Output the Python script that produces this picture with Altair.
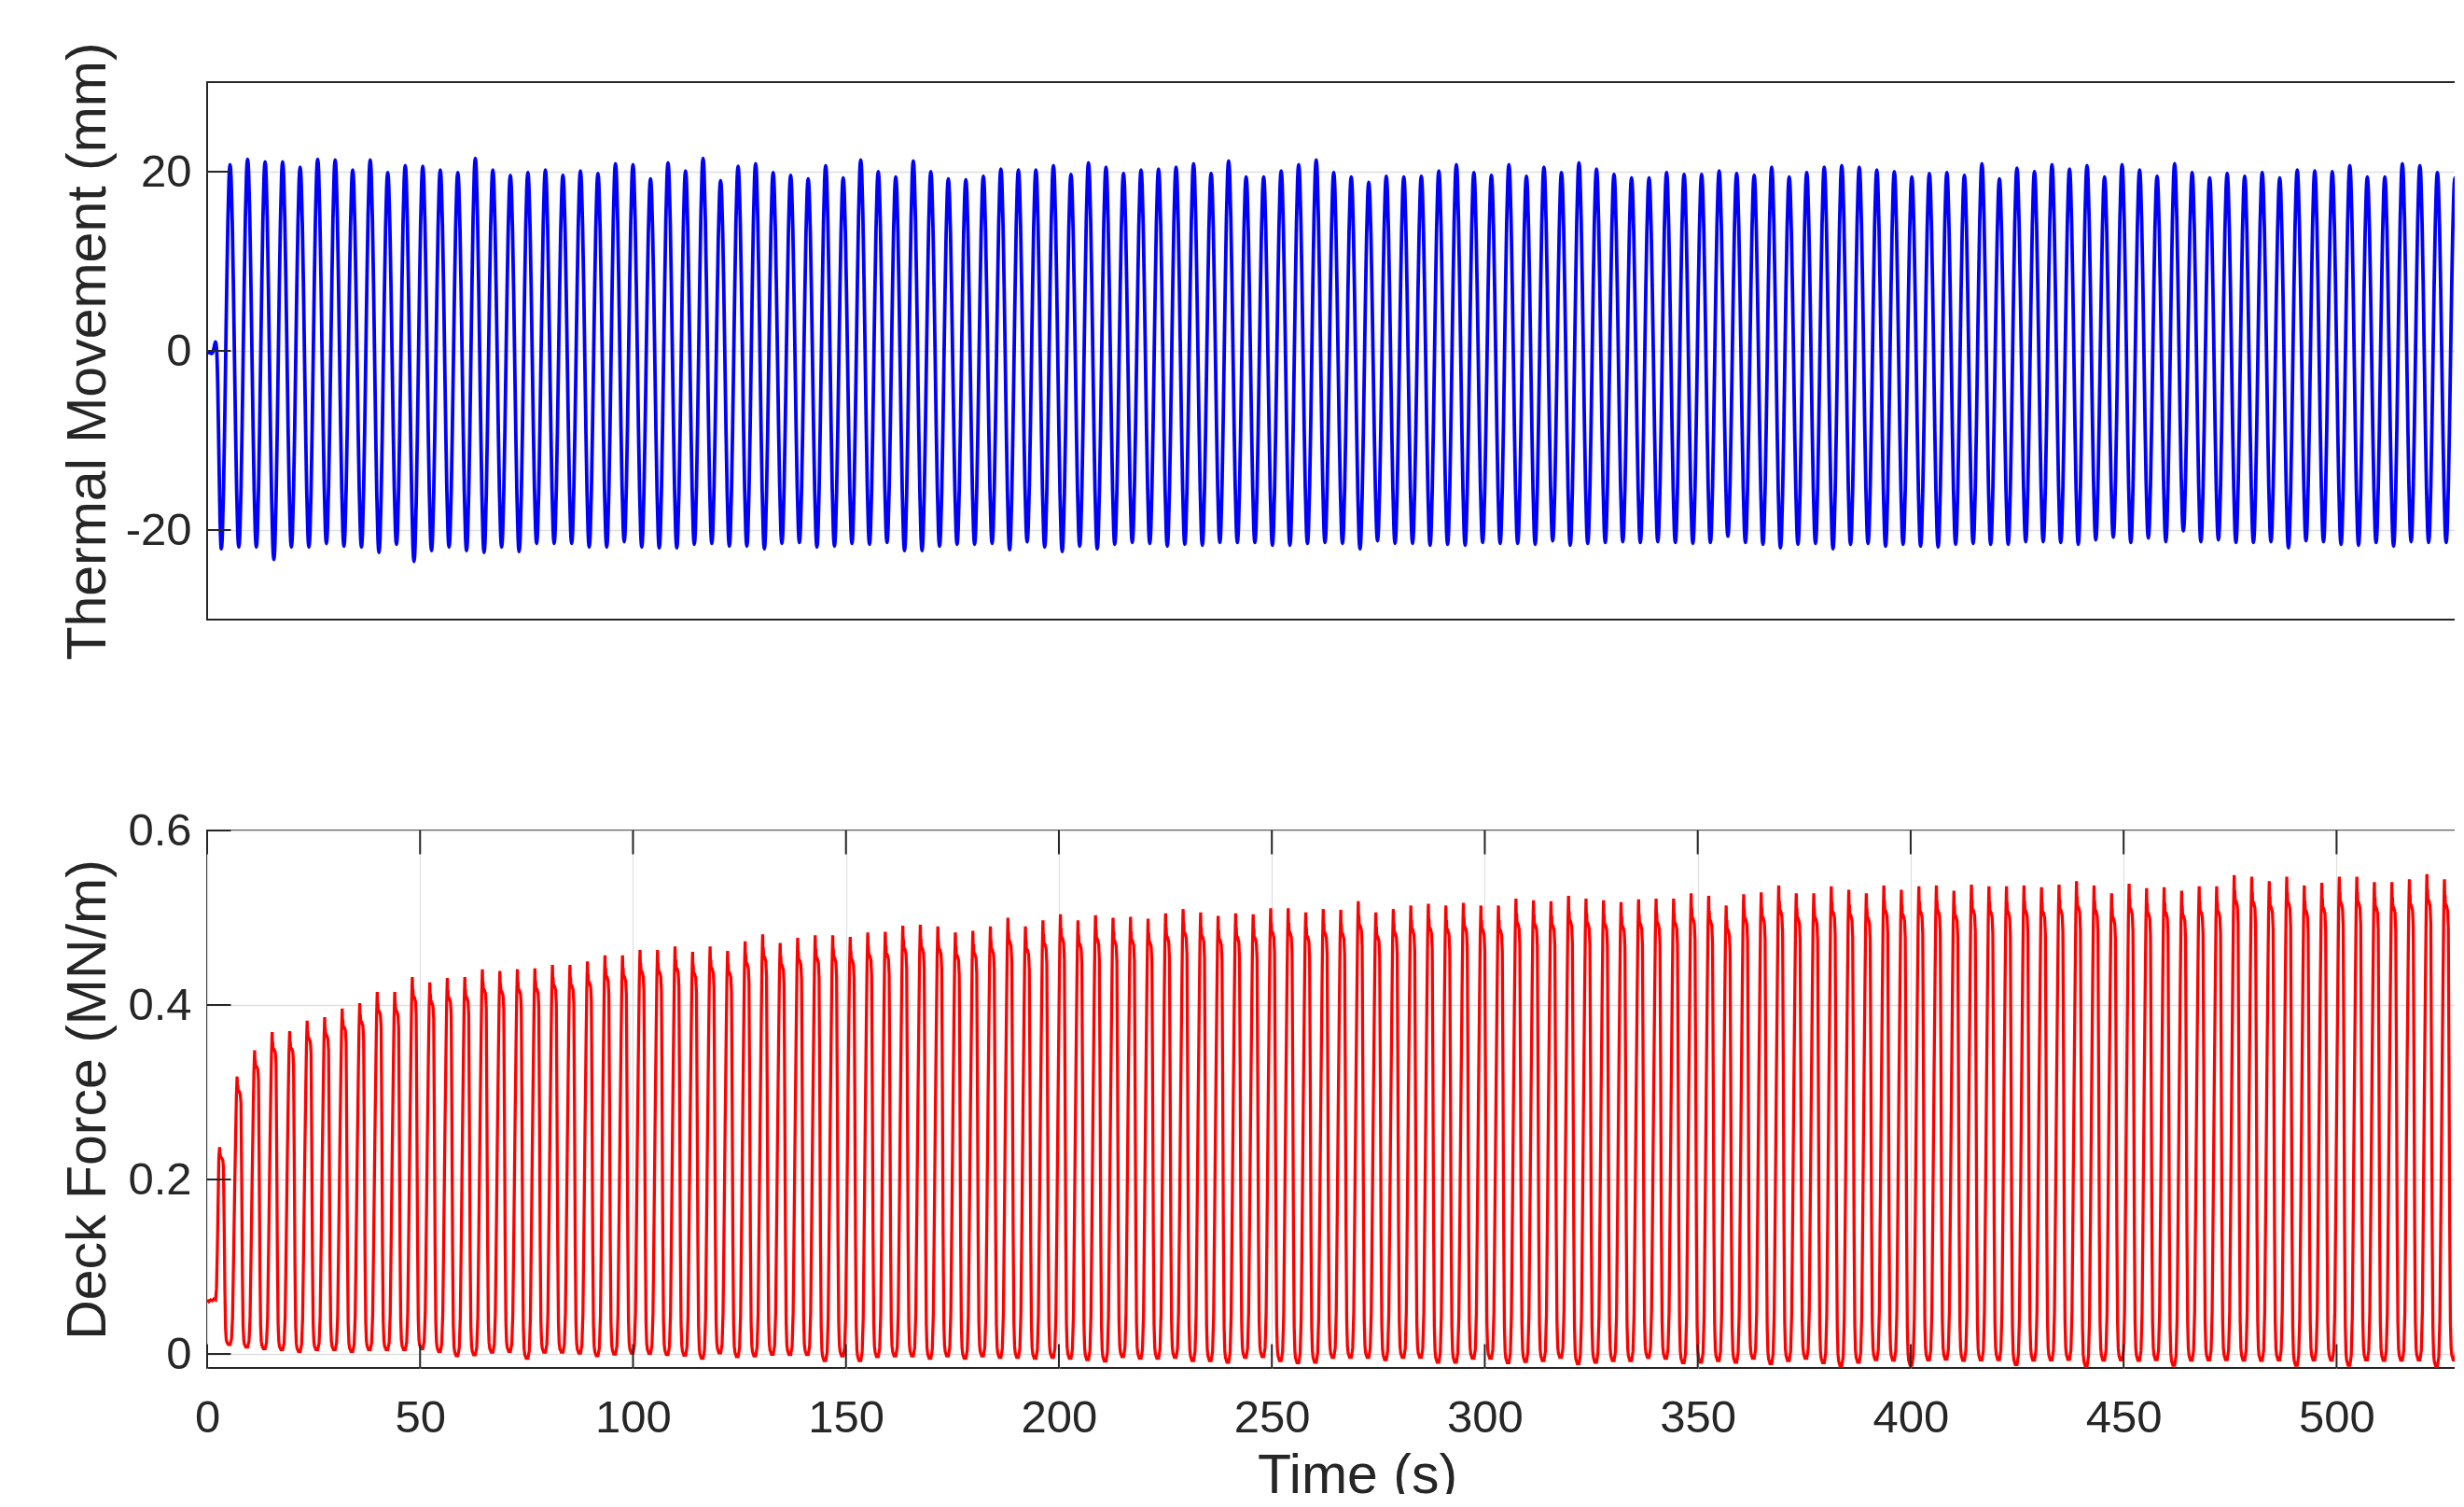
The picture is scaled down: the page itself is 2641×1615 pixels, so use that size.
import altair as alt
import pandas as pd

# ---------------- values ----------------
CYCLE_PERIOD = 4.1134        # s between successive peaks
FIRST_TROUGH_TIME = 3.33     # s, first movement trough
FORCE_LEAD = 0.40            # s, force spike comes just before the movement trough

# thermal movement: record start (before first trough)
move_start_time = [0.0, 0.5, 1.0, 1.25, 1.6, 1.95, 2.25, 2.5, 2.75, 3.0, 3.2]
move_start_value = [-0.2, -0.2, -0.3, -0.2, 0.3, 1.0, 0.0, -4.0, -11.0, -18.0, -21.4]

# thermal movement peaks (mm), one per cycle
move_peaks = [
    20.8, 21.4, 21.1, 21.1, 20.5, 21.4, 21.3, 20.2, 21.3, 19.9, 20.7, 20.6, 20.2, 19.9, 21.5,
    20.2, 19.6, 19.9, 20.2, 19.6, 20.1, 19.8, 20.9, 20.8, 19.2,
    21.0, 20.1, 21.5, 19.0, 20.6, 20.9, 19.9, 19.6, 19.2, 20.7, 19.3, 21.3, 20.0, 19.4, 21.2,
    20.0, 19.2, 19.1, 19.5, 20.3, 20.2, 20.2, 20.7, 19.7,
    21.0, 20.5, 19.8, 20.2, 20.3, 20.5, 20.9, 19.8, 21.2, 19.4, 19.4, 20.1, 20.8, 21.3, 19.9,
    19.4, 18.8, 19.5, 19.4, 19.5, 20.1, 20.8, 19.9, 19.6, 20.8,
    19.5, 20.5, 19.9, 21.0, 20.3, 19.7, 19.3, 19.3, 19.9, 19.7, 19.7, 20.1, 19.8, 19.6, 20.5,
    19.4, 19.9, 20.5, 20.7, 20.5, 20.2, 20.0, 19.4, 19.8, 19.9,
    19.6, 20.9, 19.2, 20.4, 20.0, 20.8, 20.3, 20.7, 19.4, 20.8, 20.2, 19.5, 20.9, 19.9, 19.3,
    19.8, 19.5, 19.9, 19.3, 20.2, 20.1, 20.0, 20.7, 19.4, 19.4, 20.9, 20.7, 19.9, 19.3,
]

# thermal movement troughs (mm), one per cycle (each just before the peak of same index)
move_troughs = [
    -22.1, -21.9, -21.9, -23.3, -21.9, -21.9, -21.5, -21.8, -21.9, -22.5, -21.6, -23.5, -22.3,
    -21.9, -22.3, -22.5, -21.9, -22.4, -21.5, -21.5, -21.5, -21.9, -21.9, -21.3, -21.9,
    -22.0, -22.0, -21.6, -21.5, -21.8, -21.8, -22.1, -21.5, -21.4, -21.9, -21.8, -21.5, -21.6,
    -21.4, -22.3, -22.3, -21.8, -21.6, -21.6, -21.5, -22.2, -21.3, -21.9, -22.4, -21.8,
    -22.1, -21.6, -21.4, -21.5, -21.8, -21.6, -21.7, -21.4, -21.4, -21.4, -21.7, -21.7, -21.5,
    -21.4, -21.5, -22.1, -21.2, -21.5, -21.5, -21.7, -21.6, -21.7, -21.4, -21.5, -21.5,
    -21.6, -21.2, -21.7, -21.5, -21.4, -21.3, -21.4, -21.3, -21.4, -21.5, -21.4, -20.7, -21.4,
    -21.6, -22.0, -21.6, -21.5, -22.1, -21.6, -21.5, -21.8, -21.6, -21.8, -21.9, -21.6,
    -21.5, -21.6, -21.6, -21.3, -21.3, -21.4, -21.6, -21.1, -20.8, -21.4, -20.9, -21.3, -20.1,
    -21.3, -21.1, -21.4, -21.4, -21.3, -22.0, -21.2, -21.3, -21.6, -21.7, -21.4, -21.8, -21.3,
    -21.4, -21.4, -21.4,
]

# shape of one half cycle of the movement (0 = trough, 1 = peak)
move_half_shape = [0.0, 0.04, 0.15, 0.31, 0.5, 0.69, 0.85, 0.96, 1.0]

# deck force: record start (before first spike)
force_start_time = [0.0, 0.4, 0.8, 1.2, 1.6, 2.0, 2.2, 2.4, 2.6, 2.75]
force_start_value = [0.062, 0.060, 0.062, 0.061, 0.063, 0.062, 0.075, 0.12, 0.18, 0.225]

# deck force spike per cycle (MN/m)
force_peaks = [
    0.237, 0.318, 0.348, 0.369, 0.370, 0.382, 0.386, 0.396, 0.402, 0.415, 0.415, 0.432, 0.426,
    0.431, 0.432, 0.441, 0.439, 0.441, 0.442, 0.446, 0.446, 0.450, 0.457, 0.457, 0.463,
    0.463, 0.467, 0.461, 0.467, 0.462, 0.473, 0.481, 0.471, 0.477, 0.480, 0.480, 0.478, 0.483,
    0.484, 0.491, 0.492, 0.490, 0.483, 0.485, 0.490, 0.500, 0.490, 0.497,
    0.504, 0.497, 0.503, 0.500, 0.501, 0.499, 0.505, 0.510, 0.506, 0.502, 0.505, 0.504, 0.511,
    0.511, 0.506, 0.510, 0.509, 0.519, 0.506, 0.510, 0.514, 0.516, 0.514,
    0.517, 0.514, 0.514, 0.522, 0.520, 0.519, 0.525, 0.522, 0.520, 0.518, 0.521, 0.522, 0.522,
    0.528, 0.525, 0.514, 0.527, 0.529, 0.537, 0.528, 0.528, 0.536, 0.532,
    0.528, 0.537, 0.532, 0.536, 0.537, 0.531, 0.538, 0.536, 0.536, 0.537, 0.535, 0.538, 0.542,
    0.537, 0.528, 0.539, 0.534, 0.535, 0.531, 0.536, 0.536, 0.549, 0.547, 0.542, 0.547, 0.537,
    0.540, 0.547, 0.547, 0.541, 0.541, 0.544, 0.550, 0.544, 0.545,
]

# deck force low level after each spike (MN/m)
force_troughs = [
    0.011, 0.008, 0.006, 0.005, 0.003, 0.005, 0.005, 0.003, 0.005, 0.005, 0.005, 0.006, 0.003,
    -0.002, -0.001, 0.002, 0.003, -0.005, 0.002, 0.002, 0.001, -0.002, 0.0, 0.001,
    0.0007, -0.0007, -0.0014, -0.005, 0.0014, -0.0029, -0.0021, -0.0004, -0.0007, -0.0007,
    -0.0075, -0.0021, -0.0075, -0.0029, -0.0021, -0.0021, -0.005, -0.0021, -0.005, -0.0021,
    -0.0039, -0.0039, -0.005, -0.0039, -0.005, -0.0064, -0.0082, -0.0029, -0.005, -0.005,
    -0.0039, -0.0075, -0.0075, -0.0093, -0.0039, -0.0029, -0.0075, -0.01, -0.0093, -0.0039,
    -0.0039, -0.0039, -0.0064, -0.0039, -0.0039, -0.0093, -0.0093, -0.005, -0.005, -0.01,
    -0.0086, -0.0075, -0.0039, -0.011, -0.0093, -0.0075, -0.0075, -0.0039, -0.005, -0.01,
    -0.0093, -0.0075, -0.0093, -0.005, -0.011, -0.0075, -0.005, -0.01, -0.0136, -0.0093,
    -0.0065, -0.007, -0.013, -0.0068, -0.006, -0.0072, -0.0068, -0.0065, -0.012, -0.007,
    -0.0068, -0.0062, -0.014, -0.007, -0.0068, -0.0072, -0.0065, -0.013, -0.007, -0.0068,
    -0.0065, -0.007, -0.0072, -0.0068, -0.013, -0.0068, -0.007, -0.013, -0.0068, -0.0072,
    -0.007, -0.0068, -0.014, -0.0068, -0.007,
]

# shape of one force cycle: phase (fraction of a period after the spike)
# and level (0 = low level, 1 = spike)
force_fall_phase = [0.02, 0.035, 0.05, 0.12, 0.18, 0.22, 0.26, 0.30, 0.34, 0.38, 0.42, 0.50, 0.60]
force_fall_level = [0.955, 0.968, 0.95, 0.945, 0.935, 0.90, 0.62, 0.28, 0.08, 0.025, 0.01, 0.0, 0.0]
force_rise_phase = [0.68, 0.74, 0.80, 0.86, 0.92, 0.96, 0.99]
force_rise_level = [0.02, 0.10, 0.33, 0.58, 0.80, 0.93, 0.985]

move_ticks = [-20, 0, 20]
force_ticks = [0, 0.2, 0.4, 0.6]
time_ticks = [0, 50, 100, 150, 200, 250, 300, 350, 400, 450, 500]

# ---------------- tables for the library ----------------
half = CYCLE_PERIOD / 2
n = len(move_half_shape)
move_rows = list(zip(move_start_time, move_start_value))
for j, lo in enumerate(move_troughs):
    t0 = FIRST_TROUGH_TIME + j * CYCLE_PERIOD
    move_rows.append((t0, lo))
    if j < len(move_peaks):
        hi = move_peaks[j]
        for i in range(1, n):
            move_rows.append((t0 + half * i / (n - 1), lo + move_half_shape[i] * (hi - lo)))
        if j + 1 < len(move_troughs):
            lo2 = move_troughs[j + 1]
            for i in range(1, n - 1):
                move_rows.append((t0 + half + half * i / (n - 1),
                                  hi - move_half_shape[i] * (hi - lo2)))
move_df = pd.DataFrame(move_rows, columns=["t", "v"])

force_rows = list(zip(force_start_time, force_start_value))
for k, hi in enumerate(force_peaks):
    tp = FIRST_TROUGH_TIME - FORCE_LEAD + k * CYCLE_PERIOD
    lo = force_troughs[k]
    force_rows.append((tp, hi))
    for ph, lv in zip(force_fall_phase, force_fall_level):
        force_rows.append((tp + ph * CYCLE_PERIOD, lo + lv * (hi - lo)))
    if k + 1 < len(force_peaks):
        hi2 = force_peaks[k + 1]
        for ph, lv in zip(force_rise_phase, force_rise_level):
            force_rows.append((tp + ph * CYCLE_PERIOD, lo + lv * (hi2 - lo)))
force_df = pd.DataFrame(force_rows, columns=["t", "v"])
force_df = force_df[force_df["t"] <= 531.5]

# ---------------- styling ----------------
FONT = "Liberation Sans"
INK = "#262626"
GRID = "#e0e0e0"
W = 2465
H = 576
TICK_LEN = 25.5

xscale = alt.Scale(domain=[0, 540], nice=False, zero=False)


def y_axis(vals, title):
    return alt.Axis(
        values=vals, title=title, grid=True, gridColor=GRID, gridWidth=1.3,
        ticks=False, tickSize=0, domain=False, labelFlush=False,
        labelFont=FONT, labelFontSize=49, labelColor=INK, labelPadding=17,
        labelExpr="'' + datum.value",
        titleFont=FONT, titleFontSize=59, titleFontWeight="normal", titleColor=INK,
        titleAngle=270, titleAlign="center", titleBaseline="alphabetic",
        titleX=-110, titleY=H / 2,
    )


x_axis = alt.Axis(
    values=time_ticks, title="Time (s)", grid=True, gridColor=GRID, gridWidth=1.3,
    ticks=False, tickSize=0, domain=False, labelFlush=False,
    labelFont=FONT, labelFontSize=49, labelColor=INK, labelPadding=68,
    labelBaseline="alphabetic", labelExpr="'' + datum.value",
    titleFont=FONT, titleFontSize=59, titleFontWeight="normal", titleColor=INK,
    titleAlign="center", titleBaseline="alphabetic", titleX=W / 2, titleY=133,
)

# ---- top panel: thermal movement ----
top_y = alt.Y("v:Q", scale=alt.Scale(domain=[-30, 30], nice=False, zero=False),
              axis=y_axis(move_ticks, "Thermal Movement (mm)"))
top_line = alt.Chart(move_df).mark_line(
    color="#0000ff", strokeWidth=3.8, interpolate="monotone"
).encode(x=alt.X("t:Q", scale=xscale, axis=None), y=top_y)
top_ticks = alt.Chart(pd.DataFrame({"v": move_ticks})).mark_rule(
    color=INK, strokeWidth=2
).encode(y=top_y, x=alt.value(0), x2=alt.value(TICK_LEN))
top = alt.layer(top_line, top_ticks).properties(width=W, height=H)

# ---- bottom panel: deck force ----
bot_y = alt.Y("v:Q", scale=alt.Scale(domain=[-0.016, 0.6], nice=False, zero=False),
              axis=y_axis(force_ticks, "Deck Force (MN/m)"))
bot_x = alt.X("t:Q", scale=xscale, axis=x_axis)
bot_line = alt.Chart(force_df).mark_line(color="#ff0000", strokeWidth=3.3).encode(x=bot_x, y=bot_y)
bot_yt = alt.Chart(pd.DataFrame({"v": force_ticks})).mark_rule(
    color=INK, strokeWidth=2
).encode(y=bot_y, x=alt.value(0), x2=alt.value(TICK_LEN))
xt_df = pd.DataFrame({"t": time_ticks})
bot_xt_top = alt.Chart(xt_df).mark_rule(color=INK, strokeWidth=2).encode(
    x=bot_x, y=alt.value(0), y2=alt.value(TICK_LEN))
bot_xt_bottom = alt.Chart(xt_df).mark_rule(color=INK, strokeWidth=2).encode(
    x=bot_x, y=alt.value(H), y2=alt.value(H - TICK_LEN))
bottom = alt.layer(bot_line, bot_yt, bot_xt_top, bot_xt_bottom).properties(width=W, height=H)

# negative right/bottom padding crops the figure at the window edge like the reference
chart = alt.vconcat(
    top, bottom, spacing=226, bounds="flush",
    padding={"left": 55, "top": 35, "right": -57, "bottom": -11},
    background="white",
).configure_view(stroke=INK, strokeWidth=2)

chart.save("out.html", embed_options={"renderer": "svg", "actions": False})
